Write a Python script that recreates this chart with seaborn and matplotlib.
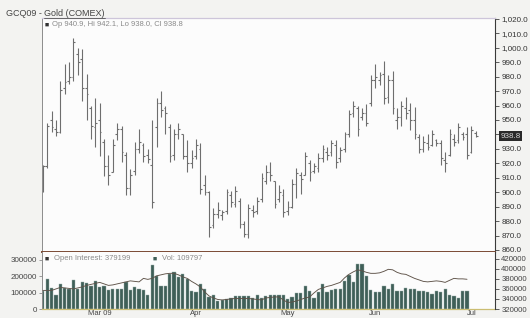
import numpy as np
import pandas as pd
import matplotlib
matplotlib.use('Agg')
import matplotlib.pyplot as plt
import seaborn as sns
from matplotlib.ticker import FuncFormatter
from matplotlib.lines import Line2D
import matplotlib.transforms as mtrans

# trading days, Feb 10 - Jul 2 2009 (COMEX holidays removed)
dates = pd.bdate_range('2009-02-10', '2009-07-02')
dates = dates.drop(pd.to_datetime(['2009-02-16', '2009-04-10', '2009-05-25']))

high = [919, 948, 956, 950, 977, 989, 990, 1007, 1000, 999,
        982, 960, 965, 962, 937, 926, 937, 948, 946, 928,
        916, 935, 944, 934, 930, 950, 965, 970, 960, 947,
        944, 948, 940, 936, 929, 937, 934, 912, 901, 889,
        893, 888, 902, 901, 904, 896, 880, 892, 891, 897,
        913, 919, 921, 908, 905, 902, 894, 909, 917, 914,
        928, 922, 920, 927, 933, 931, 936, 936, 931, 942,
        957, 963, 960, 958, 961, 981, 989, 983, 991, 981,
        984, 958, 963, 966, 962, 959, 940, 939, 940, 943,
        937, 936, 928, 944, 940, 948, 942, 945, 946, 942.1]
low = [900, 917, 942, 939, 941, 968, 975, 977, 981, 963,
       950, 937, 931, 925, 911, 905, 914, 936, 921, 898,
       898, 912, 927, 921, 920, 889, 931, 952, 940, 921,
       922, 937, 923, 914, 917, 923, 899, 898, 869, 875,
       882, 881, 885, 890, 890, 875, 869, 868, 883, 885,
       893, 906, 908, 889, 893, 883, 884, 889, 896, 899,
       912, 908, 913, 914, 921, 922, 925, 917, 921, 928,
       938, 952, 939, 950, 946, 960, 972, 974, 961, 962,
       954, 944, 946, 951, 943, 937, 927, 928, 929, 932,
       932, 919, 914, 925, 932, 934, 936, 923, 927, 938.0]
opens = [901, 918, 950, 944, 942, 972, 977, 980, 996, 992,
         972, 958, 945, 950, 935, 918, 914, 940, 944, 926,
         903, 915, 930, 933, 926, 919, 945, 962, 958, 945,
         926, 940, 940, 925, 920, 925, 930, 905, 900, 877,
         885, 884, 887, 898, 892, 894, 878, 871, 888, 887,
         895, 908, 914, 908, 895, 898, 887, 890, 906, 912,
         912, 920, 915, 917, 924, 928, 928, 933, 924, 930,
         940, 955, 958, 952, 955, 962, 978, 978, 982, 966,
         978, 950, 952, 958, 957, 950, 938, 930, 934, 933,
         936, 934, 922, 926, 937, 936, 940, 940, 928, 940.9]
closes = [918, 946, 945, 942, 971, 976, 980, 1004, 990, 972,
          968, 946, 948, 942, 918, 912, 933, 944, 928, 903,
          912, 930, 935, 925, 923, 893, 962, 957, 955, 925,
          940, 944, 925, 920, 924, 933, 902, 900, 876, 885,
          888, 886, 900, 893, 901, 878, 871, 889, 886, 894,
          910, 914, 912, 892, 900, 886, 890, 906, 913, 909,
          925, 914, 918, 924, 930, 926, 934, 921, 929, 940,
          954, 960, 944, 955, 948, 978, 980, 981, 965, 978,
          958, 952, 960, 955, 950, 940, 930, 935, 931, 940,
          934, 924, 920, 940, 935, 945, 938, 926, 943, 938.8]

# volume and open interest (last two sessions not reported yet)
volume = [110, 182, 127, 84, 153, 127, 124, 176, 124, 167,
          159, 143, 173, 133, 143, 114, 124, 124, 124, 163,
          114, 133, 124, 114, 84, 265, 202, 143, 137, 212,
          225, 192, 212, 182, 108, 104, 153, 124, 75, 84,
          49, 55, 59, 65, 80, 80, 80, 80, 69, 88,
          65, 80, 84, 84, 88, 84, 61, 75, 98, 98,
          143, 108, 69, 104, 153, 104, 114, 124, 124, 173,
          206, 163, 271, 271, 202, 114, 104, 104, 137, 124,
          153, 108, 108, 127, 124, 121, 108, 108, 104, 94,
          108, 104, 124, 84, 80, 69, 108, 109.797]
open_interest = [357, 357, 357, 360, 363, 362, 361, 360, 362, 364,
                 367, 369, 371, 373, 370, 367, 368, 370, 372, 374,
                 376, 375, 374, 381, 379, 381, 386, 388, 390, 391,
                 391, 388, 384, 381, 375, 370, 364, 354, 346, 342,
                 339, 338, 339, 340, 341, 341, 341, 341, 340, 339,
                 338, 342, 343, 344, 344, 338, 333, 334, 336, 339,
                 342, 344, 352, 359, 362, 365, 367, 370, 373, 382,
                 389, 394, 398, 396, 393, 391, 391, 392, 395, 399,
                 398, 393, 390, 389, 385, 381, 378, 375, 374, 375,
                 376, 375, 373, 377, 381, 380, 380, 379.199]
volume = [v * 1000 for v in volume]
open_interest = [v * 1000 for v in open_interest]

month_labels = ['Mar 09', 'Apr', 'May', 'Jun', 'Jul']
price_ticks = list(range(860, 1021, 10))
vol_ticks = [0, 100000, 200000, 300000]
oi_ticks = [320000, 340000, 360000, 380000, 400000, 420000]

idx = np.arange(len(dates))
vol_idx = idx[:len(volume)]
month_pos = [int(np.argmax(dates.month == m)) for m in [3, 4, 5, 6, 7]]

sns.set_theme(style='white')
plt.rcParams['font.family'] = ['Liberation Sans', 'DejaVu Sans']

W, H = 530, 318
fig = plt.figure(figsize=(W / 100, H / 100), dpi=100, facecolor='#f3f3f1')
L, R = 42 / W, 495 / W
VB = 309  # bottom of volume panel, px
ax = fig.add_axes([L, 1 - 252 / H, R - L, (252 - 18) / H], facecolor='#fcfcfc')
axv = fig.add_axes([L, 1 - VB / H, R - L, (VB - 252) / H], facecolor='#fcfcfc')

# --- price bars (OHLC) ---
bar_col = '#6e6e6e'
ax.vlines(idx, low, high, color=bar_col, linewidth=0.8)
ax.hlines(opens, idx - 0.4, idx, color=bar_col, linewidth=0.8)
ax.hlines(closes, idx, idx + 0.4, color=bar_col, linewidth=0.8)

xlim = (-0.2, 103.4)
ax.set_xlim(*xlim)
ax.set_ylim(858.6, 1020.6)
ax.yaxis.tick_right()
ax.set_yticks(price_ticks)
ax.yaxis.set_major_formatter(FuncFormatter(
    lambda v, p: '' if v == 940 else f'{v:,.1f}'))
ax.tick_params(axis='y', labelsize=5.8, labelcolor='#333333', length=3,
               width=0.6, color='#444444', pad=1.5, direction='out')
ax.tick_params(axis='x', length=0, labelbottom=False)

# last price marker on the axis
tr = mtrans.blended_transform_factory(ax.transAxes, ax.transData)
ax.text(1.012, closes[-1], f'{closes[-1]:.1f}', transform=tr, fontsize=5.8,
        color='#d8d8d8', va='center', ha='left', clip_on=False,
        bbox=dict(boxstyle='square,pad=0.15', fc='#2a2a2a', ec='none'))

ax.text(0.006, 0.985, '\u25a0 ', transform=ax.transAxes, fontsize=5,
        color='#333333', va='top', ha='left')
ax.text(0.022, 0.987,
        f'Op {opens[-1]:.1f}, Hi {high[-1]:.1f}, Lo {low[-1]:.1f}, Cl {closes[-1]:.1f}',
        transform=ax.transAxes, fontsize=5.5, color='#8a8a8a', va='top', ha='left')

for s in ax.spines.values():
    s.set_visible(True)
ax.spines['top'].set_color('#cdc5da')
ax.spines['top'].set_linewidth(0.9)
ax.spines['left'].set_color('#8c8c8c')
ax.spines['left'].set_linewidth(0.7)
ax.spines['right'].set_color('#3a3a3a')
ax.spines['right'].set_linewidth(0.8)
ax.spines['bottom'].set_color('#7b4b35')
ax.spines['bottom'].set_linewidth(1.4)

# --- volume panel ---
vol_col = '#3f5f58'
sns.barplot(x=vol_idx, y=volume, native_scale=True, ax=axv, color=vol_col,
            width=0.74, saturation=1, edgecolor='#98aea8', linewidth=0.3)
axv.set_xlim(*xlim)
axv.set_ylim(0, 347000)
axv.set_yticks(vol_ticks)
axv.yaxis.set_major_formatter(FuncFormatter(lambda v, p: f'{int(v)}'))
axv.tick_params(axis='y', labelsize=5.8, labelcolor='#444444', length=2,
                width=0.5, color='#777777', pad=1.5, left=True)
axv.set_xticks(month_pos)
axv.set_xticklabels(month_labels)
axv.tick_params(axis='x', labelsize=5.5, labelcolor='#444444', length=0, pad=0.8)
axv.set_xlabel('')
axv.set_ylabel('')

ax2 = axv.twinx()
sns.lineplot(x=vol_idx, y=open_interest, ax=ax2, color='#5e5248', linewidth=0.65)
ax2.set_xlim(*xlim)
ax2.set_ylim(320000, 433500)
ax2.set_yticks(oi_ticks)
ax2.yaxis.set_major_formatter(FuncFormatter(lambda v, p: f'{int(v)}'))
ax2.tick_params(axis='y', labelsize=5.6, labelcolor='#444444', length=3,
                width=0.6, color='#444444', pad=1.5, right=True)
ax2.set_ylabel('')

for s in ['top', 'left']:
    axv.spines[s].set_visible(False)
    ax2.spines[s].set_visible(False)
axv.spines['left'].set_visible(True)
axv.spines['left'].set_color('#8c8c8c')
axv.spines['left'].set_linewidth(0.7)
axv.spines['right'].set_visible(False)
axv.spines['bottom'].set_color('#cbbd72')
axv.spines['bottom'].set_linewidth(0.9)
ax2.spines['bottom'].set_visible(False)
ax2.spines['right'].set_color('#3a3a3a')
ax2.spines['right'].set_linewidth(0.8)

ax2.text(0.006, 0.93, '\u25a0', transform=ax2.transAxes, fontsize=5,
         color='#333333', va='top')
ax2.text(0.026, 0.94, f'Open Interest: {int(open_interest[-1])}',
         transform=ax2.transAxes, fontsize=5.5, color='#8a8a8a', va='top')
ax2.text(0.245, 0.93, '\u25a0', transform=ax2.transAxes, fontsize=5,
         color=vol_col, va='top')
ax2.text(0.265, 0.94, f'Vol: {int(round(volume[-1]))}',
         transform=ax2.transAxes, fontsize=5.5, color='#8a8a8a', va='top')

# --- title ---
t1 = fig.text(6 / W, 1 - 13 / H, 'GCQ09 - ', fontsize=6.5, color='#444444',
              va='center', ha='left')
fig.canvas.draw()
rend = fig.canvas.get_renderer()
bb = t1.get_window_extent(rend)
x2 = bb.x1 / W
t2 = fig.text(x2, 1 - 13 / H, 'Gold (COMEX)', fontsize=6.5, color='#444444',
              va='center', ha='left')
bb2 = t2.get_window_extent(rend)
yl = (bb2.y0 - 0.5) / H
fig.add_artist(Line2D([bb2.x0 / W, bb2.x1 / W], [yl, yl], color='#555555',
                      linewidth=0.6))

fig.savefig('out.png', dpi=100, facecolor=fig.get_facecolor())
